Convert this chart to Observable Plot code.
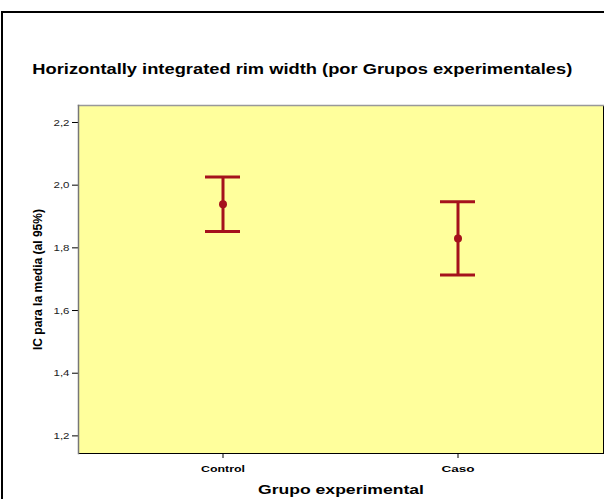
<!DOCTYPE html>
<html>
<head>
<meta charset="utf-8">
<script src="https://cdn.jsdelivr.net/npm/d3@7"></script>
<script src="https://cdn.jsdelivr.net/npm/@observablehq/plot@0.6"></script>
<style>
  html, body { margin: 0; padding: 0; width: 604px; height: 499px; overflow: hidden; background: #fff; }
  #outer { position: absolute; left: 1px; top: 11px; width: 800px; height: 800px; border: 2px solid #000; box-sizing: border-box; }
  #title { position: absolute; left: 0; top: 60px; width: 604px; text-align: center; font: bold 15px "Liberation Sans", Arial, sans-serif; color: #000; white-space: nowrap; line-height: 18px; }
  #title span { display: inline-block; transform-origin: 50% 50%; }
  #chart { position: absolute; left: 0; top: 90px; }
</style>
</head>
<body>
<div id="outer"></div>
<div id="title"><span>Horizontally integrated rim width (por Grupos experimentales)</span></div>
<div id="chart"></div>
<script>
const groups = ["Control", "Caso"];
const means = [1.939, 1.830];
const lower = [1.852, 1.713];
const upper = [2.026, 1.947];
const yTicks = [1.2, 1.4, 1.6, 1.8, 2.0, 2.2];

const data = groups.map((g, i) => ({group: g, mean: means[i], lo: lower[i], hi: upper[i]}));
const red = "#a5121c";

const plot = Plot.plot({
  width: 604,
  height: 409,
  marginTop: 15,
  marginBottom: 46,
  marginLeft: 78,
  marginRight: 1,
  style: {fontFamily: "'Liberation Sans', Arial, sans-serif", background: "transparent", overflow: "visible"},
  x: {domain: groups, type: "band", paddingInner: 0.849, paddingOuter: 0.54, label: "Grupo experimental", labelAnchor: "center", labelOffset: 40, tickSize: 5, tickPadding: 7},
  y: {domain: [1.1438, 2.2542], ticks: yTicks, tickFormat: d => d.toFixed(1).replace(".", ","), label: "IC para la media (al 95%)", labelAnchor: "center", labelOffset: 45, labelArrow: "none", tickSize: 6, tickPadding: 3},
  marks: [
    Plot.frame({fill: "#ffff9c", stroke: "#000", strokeWidth: 1}),
    Plot.frame({anchor: "top", stroke: "#999", strokeWidth: 1.5}),
    Plot.frame({anchor: "left", stroke: "#777", strokeWidth: 1.5}),
    Plot.ruleX(data, {x: "group", y1: "lo", y2: "hi", stroke: red, strokeWidth: 3}),
    Plot.tickY(data, {x: "group", y: "lo", stroke: red, strokeWidth: 3}),
    Plot.tickY(data, {x: "group", y: "hi", stroke: red, strokeWidth: 3}),
    Plot.dot(data, {x: "group", y: "mean", r: 4, fill: red, stroke: "none"})
  ]
});
document.getElementById("chart").appendChild(plot);

// stretch the title horizontally to the reference's width
const tspan = document.querySelector("#title span");
const tw = tspan.getBoundingClientRect().width;
tspan.style.transform = `scaleX(${540 / tw})`;

const svg = d3.select(plot);
const stretch = (sel, w) => sel.attr("textLength", w).attr("lengthAdjust", "spacingAndGlyphs");
stretch(svg.selectAll("[aria-label='y-axis tick label'] text").style("font-size", "9.5px").attr("fill", "#222"), 16);
svg.selectAll("[aria-label='x-axis tick label'] text").style("font-size", "9px").style("font-weight", "bold")
  .each(function() { const t = this.textContent; d3.select(this).attr("textLength", t === "Control" ? 44 : 33).attr("lengthAdjust", "spacingAndGlyphs"); });
stretch(svg.selectAll("[aria-label='x-axis label'] text").style("font-size", "13.5px").style("font-weight", "bold").attr("fill", "#000"), 166);
stretch(svg.selectAll("[aria-label='y-axis label'] text").style("font-size", "12.5px").style("font-weight", "bold").attr("fill", "#000"), 141);
svg.selectAll("[aria-label='y-axis tick'], [aria-label='x-axis tick']").attr("stroke", "#000");
</script>
</body>
</html>
